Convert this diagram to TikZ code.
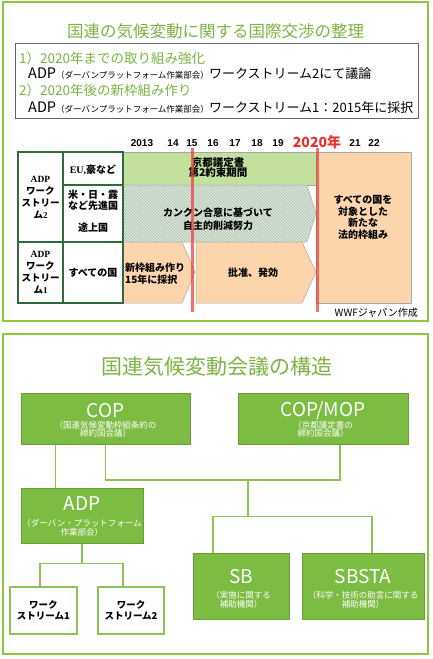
\documentclass[tikz,border=0pt]{standalone}
\usepackage{fontspec}
\setmainfont{Liberation Sans}
\newfontfamily\jp{Noto Sans CJK JP}
\newfontfamily\serifb{Liberation Serif}
\usetikzlibrary{patterns}
\newcommand{\fsz}[1]{\fontsize{#1}{#1}\selectfont}
\definecolor{ttlgreen}{HTML}{7CB342}
\definecolor{pangreen}{HTML}{8DC63F}
\definecolor{boxfill}{HTML}{7DBC42}
\definecolor{boxline}{HTML}{6A9F38}
\definecolor{conline}{HTML}{8DC453}
\definecolor{tabgreen}{HTML}{2F6B3C}
\definecolor{bargreen}{HTML}{C4E09E}
\definecolor{peach}{HTML}{FDD5AC}
\definecolor{hatchbg}{HTML}{DCE6DC}
\definecolor{hatchln}{HTML}{A9BDA9}
\definecolor{redmark}{HTML}{EE4040}
\definecolor{yeared}{HTML}{E53030}
\tikzset{
  panel/.style={draw=pangreen, line width=1.5pt},
  txt/.style={inner sep=0pt, align=center},
  tabline/.style={draw=tabgreen, line width=1.2pt},
  barline/.style={draw=gray!70, line width=0.5pt},
  yr/.style={inner sep=0pt, font=\bfseries\fsz{10}},
  gbox/.style={draw=boxline, fill=boxfill, line width=1pt, inner sep=0pt, text=white, align=center},
  wbox/.style={draw=conline, fill=white, line width=1.2pt, inner sep=0pt, align=center, font=\jp\bfseries\fsz{9.5}},
  conn/.style={draw=conline, line width=1.3pt},
  redln/.style={draw=redmark, line width=3pt, opacity=0.75},
  wshead/.style={inner sep=0pt, align=center, font=\jp\bfseries\fontsize{9.5}{12}\selectfont}
}
\begin{document}
\begin{tikzpicture}[x=1pt,y=-1pt]
\useasboundingbox (0,0) rectangle (433,659);
% ===== top panel =====
\draw[panel] (3,2) rectangle (428,321);
\node[txt, text=ttlgreen, font=\jp\fsz{16.5}] (t1) at (215.5,31) {国連の気候変動に関する国際交渉の整理};
\draw[draw=gray!80!black, line width=0.8pt] (15,43) rectangle (418,118);
\node[txt, anchor=west, text=ttlgreen, font=\jp\fsz{13.5}] (l1) at (19,58) {1）2020年までの取り組み強化};
\node[txt, anchor=west, font=\jp] (l2) at (28,74) {\fsz{14.5}ADP{\fsz{8.5}（ダーバンプラットフォーム作業部会）}\fsz{13}ワークストリーム2にて議論};
\node[txt, anchor=west, text=ttlgreen, font=\jp\fsz{13.5}] (l3) at (19,90) {2）2020年後の新枠組み作り};
\node[txt, anchor=west, font=\jp] (l4) at (28,108) {\fsz{14.5}ADP{\fsz{8.5}（ダーバンプラットフォーム作業部会）}\fsz{13}ワークストリーム1：2015年に採択};

% years
\node[yr] (y13) at (142,143) {2013};
\node[yr] (y14) at (173,143) {14};
\node[yr] (y15) at (192,143) {15};
\node[yr] (y16) at (213,143) {16};
\node[yr] (y17) at (235,143) {17};
\node[yr] (y18) at (257,143) {18};
\node[yr] (y19) at (278,143) {19};
\node[inner sep=0pt, text=yeared, font=\jp\bfseries\fsz{14}] (y20) at (317,142) {2020年};
\node[yr] (y21) at (355,143) {21};
\node[yr] (y22) at (374,143) {22};

% timeline bars
\draw[barline, fill=bargreen] (123,152) rectangle (316,185);
\draw[barline, fill=hatchbg] (123,185) -- (307,185) -- (316,213) -- (307,242) -- (123,242) -- cycle;
\fill[pattern=north west lines, pattern color=hatchln] (123,185) -- (307,185) -- (316,213) -- (307,242) -- (123,242) -- cycle;
\draw[barline, fill=peach] (123,242) -- (182,242) -- (195,272) -- (182,303) -- (123,303) -- cycle;
\draw[barline, fill=peach] (196,242) -- (302,242) -- (316,272) -- (302,303) -- (196,303) -- cycle;
\draw[barline, fill=peach] (316,152) rectangle (411,303);

\node[txt, font=\jp\bfseries\fsz{10.5}, align=center] (kyoto) at (218,168) {京都議定書\\[-0.5pt]第2約束期間};
\node[txt, font=\jp\bfseries\fsz{10}] (cancun) at (218,219.5) {カンクン合意に基づいて\\[3pt]自主的削減努力};
\node[txt, anchor=west, align=left, font=\jp\bfseries\fsz{10}] (newfw) at (125,273.5) {新枠組み作り\\[1.5pt]15年に採択};
\node[txt, font=\jp\bfseries\fsz{10}] (ratify) at (253,273) {批准、発効};
\node[txt, font=\jp\bfseries\fsz{10}] (allc) at (363,217.5) {すべての国を\\[1.5pt]対象とした\\[1.5pt]新たな\\[1.5pt]法的枠組み};

% table grid
\draw[tabline, fill=white] (18,152) rectangle (123,303);
\draw[tabline] (63,152) -- (63,303);
\draw[tabline] (18,242) -- (123,242);
\draw[tabline] (63,185) -- (123,185);
\node[wshead] (ws2h) at (40.5,197.5) {{\serifb\bfseries ADP}\\ワーク\\ストリー\\ム{\serifb\bfseries\fsz{9}2}};
\node[wshead] (ws1h) at (40.5,273) {{\serifb\bfseries ADP}\\ワーク\\ストリー\\ム{\serifb\bfseries\fsz{9}1}};
\node[txt, font=\jp\bfseries\fsz{10}] (eu) at (93,169.5) {{\serifb\bfseries EU,}豪など};
\node[txt, font=\jp\bfseries\fsz{10}] (dev) at (93,200.5) {米・日・露\\[1pt]など先進国};
\node[txt, font=\jp\bfseries\fsz{10}] (devg) at (93,228) {途上国};
\node[txt, font=\jp\bfseries\fsz{10}] (allr) at (93,273) {すべての国};

% red lines
\draw[redln] (192,148) -- (192,312);
\draw[redln] (317,148) -- (317,312);

\node[txt, anchor=east, font=\jp\fsz{10}] (wwf) at (418,313) {WWFジャパン作成};

% ===== bottom panel =====
\draw[panel] (3,334) rectangle (428,654);
\node[txt, text=ttlgreen, font=\jp\fsz{21}] (t2) at (217,367) {国連気候変動会議の構造};

\node[gbox, minimum width=169pt, minimum height=51pt] (cop) at (105.5,418.5) {};
\node[txt, text=white, font=\jp\fsz{19}] (copl) at (105.5,411) {COP};
\node[txt, text=white, font=\jp\fsz{8.5}] (cops) at (105.5,429) {（国連気候変動枠組条約の\\[-0.5pt]締約国会議）};

\node[gbox, minimum width=170pt, minimum height=51pt] (copmop) at (323,418.5) {};
\node[txt, text=white, font=\jp\fsz{19}] (copmopl) at (323,411) {COP/MOP};
\node[txt, text=white, font=\jp\fsz{8.5}] (copmops) at (323,429) {（京都議定書の\\[-0.5pt]締約国会議）};

\node[gbox, minimum width=122pt, minimum height=55pt] (adp) at (82,515.5) {};
\node[txt, text=white, font=\jp\fsz{19}] (adpl) at (82,504) {ADP};
\node[txt, text=white, font=\jp\fsz{8.5}] (adps) at (82,528) {（ダーバン・プラットフォーム\\[1pt]作業部会）};

\node[gbox, minimum width=96pt, minimum height=66pt] (sb) at (241,586) {};
\node[txt, text=white, font=\jp\fsz{19}] (sbl) at (241,577) {SB};
\node[txt, text=white, font=\jp\fsz{8.5}] (sbs) at (241,600) {（実施に関する\\[1pt]補助機関）};

\node[gbox, minimum width=122pt, minimum height=66pt] (sbsta) at (363,586) {};
\node[txt, text=white, font=\jp\fsz{19}] (sbstal) at (363,577) {SBSTA};
\node[txt, text=white, font=\jp\fsz{8.5}] (sbstas) at (363,600) {（科学・技術の助言に関する\\[1pt]補助機関）};

\node[wbox, minimum width=67pt, minimum height=47pt] (ws1) at (43.5,610.5) {ワーク\\[1pt]ストリーム1};
\node[wbox, minimum width=66pt, minimum height=47pt] (ws2) at (131,610.5) {ワーク\\[1pt]ストリーム2};

% connectors
\coordinate (j1) at (248,480);
\coordinate (j2) at (248,517);
\coordinate (j3) at (82,564);
\draw[conn] ([xshift=35pt]cop.south west) -- ([xshift=35pt]adp.north west);
\draw[conn] (cop.south) |- (j1) -| ([xshift=17pt]copmop.south);
\draw[conn] (j1) -- (j2);
\draw[conn] ([xshift=-28pt]sb.north) -- ++(0,-36) -| ([xshift=9pt]sbsta.north);
\draw[conn] (adp.south) -- (j3);
\draw[conn] ([xshift=-3.5pt]ws1.north) -- ++(0,-23) -| ([xshift=-8pt]ws2.north);
\end{tikzpicture}
\end{document}
